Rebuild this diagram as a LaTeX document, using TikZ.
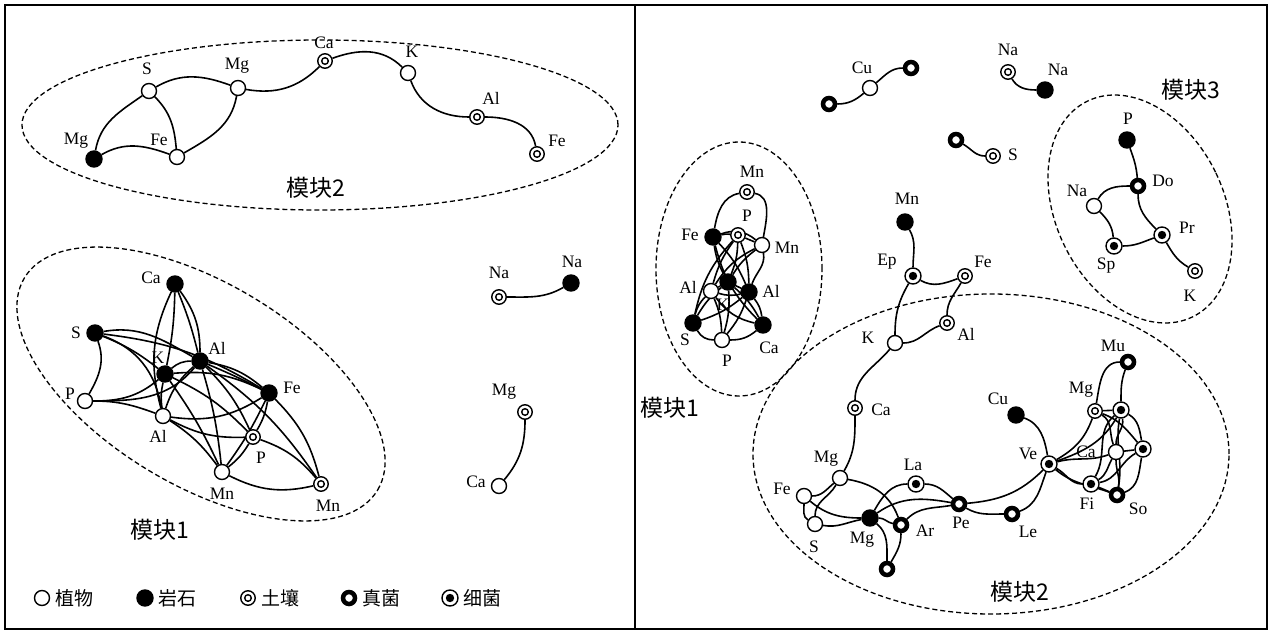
\documentclass[tikz,border=0pt]{standalone}
\usepackage{fontspec}
\setmainfont{Liberation Serif}
\newfontfamily\cjk{Noto Sans CJK SC}
\pgfdeclarelayer{bg}
\pgfsetlayers{bg,main}
\begin{document}
\begin{tikzpicture}[x=1pt,y=-1pt,
  plant/.style={circle,draw,fill=white,line width=1.4pt,minimum size=15pt,inner sep=0pt},
  rock/.style={circle,draw,fill=black,line width=1.4pt,minimum size=16pt,inner sep=0pt},
  soil/.style={circle,draw,fill=white,line width=1.4pt,minimum size=14.5pt,inner sep=0pt,
    path picture={\draw[black,line width=1.4pt] (path picture bounding box.center) circle[radius=3.3pt];}},
  fungus/.style={circle,draw,fill=white,line width=4.5pt,minimum size=12pt,inner sep=0pt},
  bact/.style={circle,draw,fill=white,line width=1.4pt,minimum size=16pt,inner sep=0pt,
    path picture={\fill[black] (path picture bounding box.center) circle[radius=4.2pt];}},
  lab/.style={font=\fontsize{17.5}{17.5}\selectfont,inner sep=0pt},
  modl/.style={font=\cjk\fontsize{23}{23}\selectfont,inner sep=0pt},
  leg/.style={font=\cjk\fontsize{19}{19}\selectfont,inner sep=0pt,anchor=west},
  con/.style={line width=1.6pt},
  zone/.style={line width=1.3pt,dash pattern=on 5pt off 3pt}]
\useasboundingbox (0,0) rectangle (1273,631);

% ===== LEFT PANEL: module 2 =====
\node[rock] (aMg1) at (94,159) {};
\node[plant] (aFe) at (177,157) {};
\node[plant] (aS) at (149,91) {};
\node[plant] (aMg2) at (238,88) {};
\node[soil] (aCa) at (325,61) {};
\node[plant] (aK) at (408,73) {};
\node[soil] (aAl) at (477,117) {};
\node[soil] (aFe2) at (537,154) {};
\node[lab] (taMg1) at (76,141) {Mg};
\node[lab] (taFe) at (159,140) {Fe};
\node[lab] (taS) at (147,69) {S};
\node[lab] (taMg2) at (237,66) {Mg};
\node[lab] (taCa) at (324,43) {Ca};
\node[lab] (taK) at (412,52) {K};
\node[lab] (taAl) at (491,98) {Al};
\node[lab] (taFe2) at (557,141) {Fe};
\node[modl] (mA2) at (316,188) {模块2};

% ===== LEFT PANEL: module 1 =====
\node[rock] (bCa) at (175,284) {};
\node[rock] (bS) at (95,333) {};
\node[rock] (bK) at (165,374) {};
\node[rock] (bAlr) at (200,361) {};
\node[rock] (bFe) at (269,393) {};
\node[plant] (bP) at (85,401) {};
\node[plant] (bAlp) at (163,416) {};
\node[soil] (bPs) at (253,437) {};
\node[plant] (bMnp) at (222,472) {};
\node[soil] (bMns) at (321,484) {};
\node[lab] (tbCa) at (151,278) {Ca};
\node[lab] (tbS) at (76,333) {S};
\node[lab] (tbK) at (158,358) {K};
\node[lab] (tbAlr) at (217,348) {Al};
\node[lab] (tbFe) at (292,388) {Fe};
\node[lab] (tbP) at (70,394) {P};
\node[lab] (tbAlp) at (158,436) {Al};
\node[lab] (tbPs) at (261,458) {P};
\node[lab] (tbMnp) at (222,494) {Mn};
\node[lab] (tbMns) at (328,506) {Mn};
\node[modl] (mB1) at (160,530) {模块1};

% ===== LEFT PANEL: pairs =====
\node[soil] (cNa1) at (499,297) {};
\node[rock] (cNa2) at (571,283) {};
\node[soil] (cMg) at (525,412) {};
\node[plant] (cCa) at (499,486) {};
\node[lab] (tcNa1) at (499,273) {Na};
\node[lab] (tcNa2) at (572,262) {Na};
\node[lab] (tcMg) at (504,392) {Mg};
\node[lab] (tcCa) at (476,482) {Ca};

% ===== legend =====
\node[plant] (g1) at (42,598) {};
\node[leg] (tg1) at (55,598) {植物};
\node[rock] (g2) at (145,598) {};
\node[leg] (tg2) at (158,598) {岩石};
\node[soil] (g3) at (248,598) {};
\node[leg] (tg3) at (261,598) {土壤};
\node[fungus] (g4) at (349,598) {};
\node[leg] (tg4) at (362,598) {真菌};
\node[bact] (g5) at (450,598) {};
\node[leg] (tg5) at (463,598) {细菌};

% ===== RIGHT PANEL: loose pairs =====
\node[fungus] (dF1) at (829,104) {};
\node[plant] (dCu) at (870,88) {};
\node[fungus] (dF2) at (911,68) {};
\node[soil] (dNa1) at (1008,72) {};
\node[rock] (dNa2) at (1045,90) {};
\node[fungus] (dF3) at (956,140) {};
\node[soil] (dS) at (993,156) {};
\node[lab] (tdCu) at (862,68) {Cu};
\node[lab] (tdNa1) at (1008,50) {Na};
\node[lab] (tdNa2) at (1058,70) {Na};
\node[lab] (tdS) at (1013,155) {S};

% chain
\node[rock] (eMn) at (905,222) {};
\node[bact] (eEp) at (913,276) {};
\node[soil] (eFe) at (965,276) {};
\node[soil] (eAl) at (947,323) {};
\node[plant] (eK) at (895,343) {};
\node[soil] (eCa) at (855,408) {};
\node[lab] (teMn) at (907,199) {Mn};
\node[lab] (teEp) at (887,262) {Ep};
\node[lab] (teFe) at (983,262) {Fe};
\node[lab] (teAl) at (966,334) {Al};
\node[lab] (teK) at (868,338) {K};
\node[lab] (teCa) at (881,410) {Ca};

% ===== RIGHT: module 3 =====
\node[rock] (fP) at (1127,140) {};
\node[fungus] (fDo) at (1138,186) {};
\node[plant] (fNa) at (1094,206) {};
\node[bact] (fSp) at (1114,246) {};
\node[bact] (fPr) at (1162,235) {};
\node[soil] (fK) at (1195,271) {};
\node[lab] (tfP) at (1128,119) {P};
\node[lab] (tfDo) at (1163,181) {Do};
\node[lab] (tfNa) at (1077,191) {Na};
\node[lab] (tfSp) at (1106,266) {Sp};
\node[lab] (tfPr) at (1187,228) {Pr};
\node[lab] (tfK) at (1190,296) {K};
\node[modl] (mF3) at (1191,90) {模块3};

% ===== RIGHT: module 1 =====
\node[soil] (hMns) at (747,192) {};
\node[soil] (hPs) at (738,235) {};
\node[rock] (hFe) at (713,237) {};
\node[plant] (hMnp) at (762,245) {};
\node[rock] (hK) at (728,282) {};
\node[plant] (hAlp) at (711,291) {};
\node[rock] (hAlr) at (749,292) {};
\node[rock] (hS) at (693,323) {};
\node[rock] (hCa) at (763,325) {};
\node[plant] (hPp) at (722,340) {};
\node[lab] (thMns) at (752,172) {Mn};
\node[lab] (thPs) at (747,216) {P};
\node[lab] (thFe) at (690,235) {Fe};
\node[lab] (thMnp) at (787,248) {Mn};
\node[lab] (thK) at (723,305) {K};
\node[lab] (thAlp) at (688,287) {Al};
\node[lab] (thAlr) at (771,291) {Al};
\node[lab] (thS) at (685,340) {S};
\node[lab] (thCa) at (769,348) {Ca};
\node[lab] (thPp) at (727,361) {P};
\node[modl] (mH1) at (670,408) {模块1};

% ===== RIGHT: module 2 =====
\node[plant] (kMgp) at (840,478) {};
\node[plant] (kFe) at (804,496) {};
\node[plant] (kS) at (815,524) {};
\node[rock] (kMgr) at (870,518) {};
\node[bact] (kLa) at (916,484) {};
\node[fungus] (kAr) at (901,525) {};
\node[fungus] (kBot) at (887,569) {};
\node[fungus] (kPe) at (959,504) {};
\node[fungus] (kLe) at (1012,514) {};
\node[rock] (kCu) at (1016,415) {};
\node[bact] (kVe) at (1049,464) {};
\node[soil] (kMgs) at (1095,411) {};
\node[bact] (kB1) at (1121,410) {};
\node[fungus] (kMu) at (1128,362) {};
\node[plant] (kCa) at (1116,452) {};
\node[bact] (kB2) at (1143,449) {};
\node[bact] (kFi) at (1091,484) {};
\node[fungus] (kSo) at (1117,495) {};
\node[lab] (tkMgp) at (826,459) {Mg};
\node[lab] (tkFe) at (782,489) {Fe};
\node[lab] (tkS) at (814,547) {S};
\node[lab] (tkMgr) at (862,540) {Mg};
\node[lab] (tkLa) at (913,465) {La};
\node[lab] (tkAr) at (925,531) {Ar};
\node[lab] (tkPe) at (961,523) {Pe};
\node[lab] (tkLe) at (1028,532) {Le};
\node[lab] (tkCu) at (998,399) {Cu};
\node[lab] (tkVe) at (1028,454) {Ve};
\node[lab] (tkMgs) at (1081,390) {Mg};
\node[lab] (tkMu) at (1113,346) {Mu};
\node[lab] (tkCa) at (1086,452) {Ca};
\node[lab] (tkFi) at (1087,504) {Fi};
\node[lab] (tkSo) at (1138,509) {So};
\node[modl] (mK2) at (1020,592) {模块2};

\begin{pgfonlayer}{bg}
\fill[white] (0,0) rectangle (1273,631);
\draw[line width=2pt] (5,5) rectangle (1267,629);
\draw[line width=2pt] (635,5) -- (635,629);
% zones
\draw[zone] (320,125) circle[x radius=298pt,y radius=85pt];
\draw[zone] (201,384) circle[x radius=206pt,y radius=101pt,rotate=-31];
\draw[zone] (739,269) circle[x radius=83pt,y radius=127pt];
\draw[zone] (1140,209) circle[x radius=84pt,y radius=120pt,rotate=26];
\draw[zone] (991,454) circle[x radius=238pt,y radius=160pt];

% left module 2
\draw[con] (aMg1) to[out=80,in=215] (aS);
\draw[con] (aMg1) to[out=30,in=160] (aFe);
\draw[con] (aS) to[out=-45,in=95] (aFe);
\draw[con] (aS) to[out=30,in=160] (aMg2);
\draw[con] (aFe) to[out=30,in=-100] (aMg2);
\draw[con] (aMg2) to[out=-10,in=225] (aCa);
\draw[con] (aCa) to[out=20,in=135] (aK);
\draw[con] (aK) to[out=-70,in=180] (aAl);
\draw[con] (aAl) to[out=0,in=100] (aFe2);

% left module 1
\draw[con] (bCa) to[bend right=20] (bAlp);
\draw[con] (bCa) to[bend left=5] (bK);
\draw[con] (bCa) to[bend left=18] (bAlr);
\draw[con] (bCa) to[bend left=4] (bAlr);
\draw[con] (bS) to[out=-70,in=60] (bP);
\draw[con] (bS) to[out=10,in=150] (bAlr);
\draw[con] (bS) to[bend left=8] (bK);
\draw[con] (bS) to[out=-20,in=100] (bAlp);
\draw[con] (bS) to[bend left=12] (bFe);
\draw[con] (bP) to[out=0,in=220] (bK);
\draw[con] (bP) to[out=0,in=230] (bAlr);
\draw[con] (bP) to[out=0,in=160] (bAlp);
\draw[con] (bK) to[bend left=20] (bAlr);
\draw[con] (bK) to[bend left=15] (bFe);
\draw[con] (bK) to[bend left=10] (bPs);
\draw[con] (bK) to[bend left=5] (bMnp);
\draw[con] (bK) to[bend right=10] (bAlp);
\draw[con] (bAlr) to[bend left=15] (bFe);
\draw[con] (bAlr) to[bend left=2] (bFe);
\draw[con] (bAlr) to[bend left=10] (bPs);
\draw[con] (bAlr) to[bend left=5] (bMnp);
\draw[con] (bAlr) to[bend right=15] (bAlp);
\draw[con] (bAlr) to[bend left=10] (bMns);
\draw[con] (bAlp) to[bend right=20] (bFe);
\draw[con] (bAlp) to[bend right=15] (bPs);
\draw[con] (bAlp) to[bend left=10] (bMnp);
\draw[con] (bFe) to[bend left=10] (bPs);
\draw[con] (bFe) to[bend left=15] (bMns);
\draw[con] (bFe) to[bend left=5] (bMnp);
\draw[con] (bPs) to[bend left=10] (bMnp);
\draw[con] (bPs) to[bend left=15] (bMns);
\draw[con] (bMnp) to[bend right=20] (bMns);

% left pairs
\draw[con] (cNa1) to[out=0,in=210] (cNa2);
\draw[con] (cMg) to[out=-90,in=50] (cCa);

% right loose pairs
\draw[con] (dF1) to[out=0,in=220] (dCu);
\draw[con] (dCu) to[out=40,in=180] (dF2);
\draw[con] (dNa1) to[out=-60,in=180] (dNa2);
\draw[con] (dF3) to[out=-30,in=180] (dS);

% chain
\draw[con] (eMn) to[out=-60,in=90] (eEp);
\draw[con] (eEp) to[out=-30,in=200] (eFe);
\draw[con] (eEp) to[out=-120,in=90] (eK);
\draw[con] (eFe) to[out=-120,in=90] (eAl);
\draw[con] (eAl) to[out=200,in=0] (eK);
\draw[con] (eK) to[out=230,in=90] (eCa);
\draw[con] (eCa) to[out=-90,in=60] (kMgp);

% module 3
\draw[con] (fP) to[out=-70,in=95] (fDo);
\draw[con] (fDo) to[out=180,in=60] (fNa);
\draw[con] (fDo) to[out=-90,in=135] (fPr);
\draw[con] (fNa) to[out=-45,in=95] (fSp);
\draw[con] (fSp) to[out=0,in=200] (fPr);
\draw[con] (fPr) to[out=-60,in=150] (fK);

% right module 1
\draw[con] (hMns) to[out=190,in=80] (hFe);
\draw[con] (hMns) to[out=-10,in=80] (hMnp);
\draw[con] (hFe) to[bend left=10] (hPs);
\draw[con] (hFe) to[bend left=30] (hMnp);
\draw[con] (hFe) to[bend right=10] (hK);
\draw[con] (hFe) to[bend left=10] (hAlr);
\draw[con] (hFe) to[bend right=15] (hCa);
\draw[con] (hPs) to (hMnp);
\draw[con] (hPs) to[bend left=10] (hK);
\draw[con] (hPs) to[bend right=10] (hAlp);
\draw[con] (hPs) to[bend right=15] (hS);
\draw[con] (hPs) to[bend left=10] (hAlr);
\draw[con] (hMnp) to[out=-80,in=70] (hAlr);
\draw[con] (hMnp) to[bend right=10] (hK);
\draw[con] (hMnp) to[bend right=15] (hAlp);
\draw[con] (hK) to (hAlp);
\draw[con] (hK) to (hAlr);
\draw[con] (hK) to[bend right=10] (hS);
\draw[con] (hK) to[bend left=10] (hPp);
\draw[con] (hK) to[bend left=10] (hCa);
\draw[con] (hAlp) to[bend right=15] (hS);
\draw[con] (hAlp) to[bend right=15] (hAlr);
\draw[con] (hAlp) to[bend right=20] (hCa);
\draw[con] (hAlp) to[bend left=10] (hPp);
\draw[con] (hAlr) to[bend left=10] (hS);
\draw[con] (hAlr) to[bend left=10] (hPp);
\draw[con] (hAlr) to[bend left=15] (hCa);
\draw[con] (hS) to[bend right=30] (hPp);
\draw[con] (hCa) to[bend left=20] (hPp);

% right module 2
\draw[con] (kFe) to[out=0,in=220] (kMgp);
\draw[con] (kMgp) to[out=240,in=90] (kS);
\draw[con] (kMgp) to[out=-10,in=110] (kAr);
\draw[con] (kFe) to[out=-90,in=150] (kS);
\draw[con] (kFe) to[out=-40,in=180] (kMgr);
\draw[con] (kS) to[out=-10,in=190] (kMgr);
\draw[con] (kMgr) to[out=60,in=180] (kLa);
\draw[con] (kMgr) to[out=35,in=170] (kPe);
\draw[con] (kMgr) to[out=0,in=170] (kAr);
\draw[con] (kMgr) to[out=-40,in=90] (kBot);
\draw[con] (kAr) to[out=-90,in=60] (kBot);
\draw[con] (kAr) to[out=45,in=190] (kPe);
\draw[con] (kLa) to[out=0,in=140] (kPe);
\draw[con] (kPe) to[out=5,in=225] (kVe);
\draw[con] (kPe) to[out=-30,in=180] (kLe);
\draw[con] (kLe) to[out=20,in=250] (kVe);
\draw[con] (kCu) to[out=-20,in=100] (kVe);
\draw[con] (kVe) to[out=30,in=250] (kMgs);
\draw[con] (kVe) to[out=15,in=200] (kCa);
\draw[con] (kVe) to[out=20,in=240] (kB1);
\draw[con] (kVe) to[out=-30,in=180] (kFi);
\draw[con] (kVe) to[out=-40,in=160] (kSo);
\draw[con] (kMgs) to[out=80,in=180] (kMu);
\draw[con] (kB1) to[out=90,in=250] (kMu);
\draw[con] (kMgs) to (kB1);
\draw[con] (kMgs) to[out=-30,in=110] (kCa);
\draw[con] (kMgs) to[out=-20,in=130] (kB2);
\draw[con] (kB1) to[out=-80,in=90] (kCa);
\draw[con] (kB1) to[out=-30,in=100] (kB2);
\draw[con] (kB1) to[out=-100,in=80] (kSo);
\draw[con] (kB1) to[out=220,in=60] (kFi);
\draw[con] (kCa) to (kB2);
\draw[con] (kCa) to[out=-120,in=30] (kFi);
\draw[con] (kCa) to[out=-90,in=80] (kSo);
\draw[con] (kB2) to[out=-100,in=20] (kSo);
\draw[con] (kB2) to[out=-150,in=10] (kFi);
\draw[con] (kFi) to (kSo);
\end{pgfonlayer}
\end{tikzpicture}
\end{document}
